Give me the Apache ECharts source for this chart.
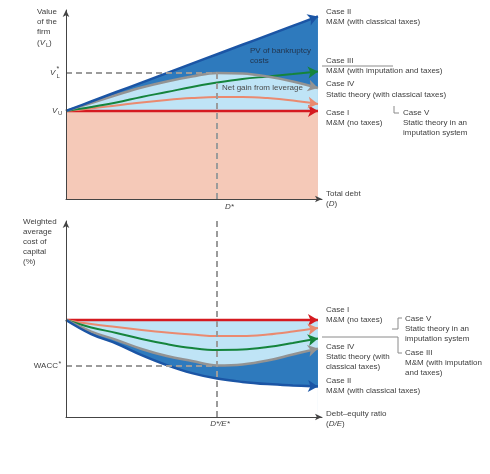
<!DOCTYPE html>
<html><head><meta charset="utf-8">
<script src="https://cdn.jsdelivr.net/npm/echarts@6/dist/echarts.min.js"></script>
<style>html,body{margin:0;padding:0;background:#fff}#c{width:490px;height:474px}</style>
</head><body><div id="c"></div>
<script>
// ---- data ----
const xPoints = [0, 10, 20, 30, 40, 50, 60, 70, 80, 90, 100];
// top panel: value of the firm vs total debt
const topCaseI   = [46.6, 46.6, 46.6, 46.6, 46.6, 46.6, 46.6, 46.6, 46.6, 46.6, 46.6];
const topCaseII  = [46.6, 51.6, 56.6, 61.6, 66.6, 71.6, 76.6, 81.6, 86.6, 91.6, 96.6];
const topCaseIII = [46.6, 48.7, 51.1, 54.0, 56.6, 59.3, 61.6, 63.5, 64.8, 66.1, 67.5];
const topCaseIV  = [46.6, 50.8, 55.0, 59.0, 62.2, 64.8, 66.7, 66.4, 64.8, 62.2, 58.7];
const topCaseV   = [46.6, 47.9, 49.5, 51.1, 52.4, 53.4, 54.0, 54.0, 53.4, 52.1, 50.3];
// bottom panel: WACC vs debt-equity ratio
const botCaseI   = [49.5, 49.5, 49.5, 49.5, 49.5, 49.5, 49.5, 49.5, 49.5, 49.5, 49.5];
const botCaseII  = [49.5, 42.3, 37.5, 31.6, 26.5, 22.4, 19.6, 17.9, 16.8, 16.1, 15.6];
const botCaseIII = [49.5, 45.7, 42.9, 39.8, 37.2, 35.2, 34.2, 34.4, 35.7, 37.8, 40.1];
const botCaseIV  = [49.5, 43.6, 39.3, 34.7, 31.1, 28.6, 26.3, 26.8, 28.8, 31.9, 34.9];
const botCaseV   = [49.5, 47.4, 45.9, 44.4, 43.1, 42.1, 41.3, 41.3, 42.1, 43.6, 45.4];
const dStar = 60;
const vLStar = 66.7;
const waccStar = 26.3;

// ---- styling ----
const FONT = '"Liberation Sans", Arial, sans-serif';
const TXT = '#404040';
const C = { red:'#d51a20', salmon:'#ea8a70', green:'#15843c', gray:'#939393', blue:'#1b55a5',
            dark:'#2e7abd', light:'#bfe4f6', peach:'#f5c9b8', dash:'#9b9b9b' };
const SM = 0.4;

const chart = echarts.init(document.getElementById('c'), null, {renderer:'canvas'});

function pairs(ys){ return xPoints.map((x,i)=>[x, ys[i]]); }
function fillSeries(id, g, ys, color){
  return {id, type:'line', xAxisIndex:g, yAxisIndex:g, data:pairs(ys), smooth:SM, showSymbol:false,
    lineStyle:{width:0, opacity:0}, areaStyle:{color, opacity:1}, z:1, silent:true, animation:false};
}
function lineSeries(id, g, ys, color, w, rot){
  const last = ys.length-1;
  return {id, type:'line', xAxisIndex:g, yAxisIndex:g, smooth:SM, z:3, silent:true, animation:false,
    showSymbol:true, showAllSymbol:true,
    data: xPoints.map((x,i)=>({value:[x, ys[i]], symbol: i===last?'arrow':'none',
      symbolSize: i===last?[9,10]:0, symbolRotate: i===last?(rot||0):0})),
    lineStyle:{color, width:w}, itemStyle:{color}};
}
function axisX(g){ return {gridIndex:g, type:'value', min:0, max:101.6, z:10,
  axisLine:{show:true, onZero:false, lineStyle:{color:'#444', width:1}, symbol:['none','arrow'], symbolSize:[5,7]},
  axisTick:{show:false}, axisLabel:{show:false}, splitLine:{show:false}}; }
function axisY(g){ return {gridIndex:g, type:'value', min:0, max:100, z:10,
  axisLine:{show:true, onZero:false, lineStyle:{color:'#444', width:1}, symbol:['none','arrow'], symbolSize:[5,7]},
  axisTick:{show:false}, axisLabel:{show:false}, splitLine:{show:false}}; }

function txt(x, y, text, o){
  o = o || {};
  return {type:'text', x, y, z:100, silent:true, style:{text, fill:o.fill||TXT, font:(o.italic?'italic ':'')+(o.size||8)+'px '+FONT,
    align:o.align||'left', verticalAlign:'middle',
    rich:{i:{fontStyle:'italic', fontSize:o.size||8, fontFamily:FONT, fill:o.fill||TXT}}}};
}
function pl(points){ return {type:'polyline', z:100, silent:true, shape:{points}, style:{stroke:'#8a8a8a', lineWidth:1, fill:null}}; }

const graphics = [
  // top panel y title
  txt(37,12,'Value'), txt(37,22,'of the'), txt(37,32,'firm'),
  txt(37,43,'({i|V}'), txt(46,45,'L',{size:6}), txt(49,43,')'),
  txt(50,73,'V',{italic:true}), txt(56.5,76,'L',{size:6}), txt(56.5,69,'*',{size:7}),
  txt(52,111,'V',{italic:true}), txt(58,113,'U',{size:6}),
  txt(225,207,'D*',{italic:true}),
  // top right labels
  txt(326,12,'Case II'), txt(326,22,'M&M (with classical taxes)'),
  txt(326,61,'Case III'), txt(326,71,'M&M (with imputation and taxes)'),
  txt(326,84,'Case IV'), txt(326,95,'Static theory (with classical taxes)'),
  txt(326,113,'Case I'), txt(326,123,'M&M (no taxes)'),
  txt(403,113,'Case V'), txt(403,123,'Static theory in an'), txt(403,133,'imputation system'),
  pl([[394,106],[394,113],[399,113]]),
  pl([[322,66],[393,66]]),
  txt(326,194,'Total debt'), txt(326,204,'({i|D})'),
  txt(250,51,'PV of bankruptcy',{fill:'#22354e'}), txt(250,61,'costs',{fill:'#22354e'}),
  txt(222,88,'Net gain from leverage',{fill:'#4a4a4a'}),
  // bottom panel y title
  txt(23,222,'Weighted'), txt(23,232,'average'), txt(23,242,'cost of'), txt(23,252,'capital'), txt(23,262,'(%)'),
  txt(58,366,'WACC',{align:'right'}), txt(58.5,364,'*',{size:7}),
  txt(220,424,'D*/E*',{italic:true, align:'center'}),
  // bottom right labels
  txt(326,310,'Case I'), txt(326,320,'M&M (no taxes)'),
  txt(326,347,'Case IV'), txt(326,357,'Static theory (with'), txt(326,367,'classical taxes)'),
  txt(326,381,'Case II'), txt(326,391,'M&M (with classical taxes)'),
  txt(326,414,'Debt–equity ratio'), txt(326,424,'({i|D/E})'),
  txt(405,319,'Case V'), txt(405,329,'Static theory in an'), txt(405,339,'imputation system'),
  txt(405,353,'Case III'), txt(405,363,'M&M (with imputation'), txt(405,373,'and taxes)'),
  pl([[392,329],[398,329],[398,318],[402,318]]),
  pl([[322,337],[398,337],[398,353],[402,353]])
];

const dashStyle = {color:C.dash, width:2, type:[6,4]};
function build(rots){
  rots = rots || {};
  return {
    backgroundColor:'#fff',
    animation:false,
    grid:[{left:66, right:168, top:10, height:189}, {left:66, right:168, top:221, height:196}],
    xAxis:[axisX(0), axisX(1)],
    yAxis:[axisY(0), axisY(1)],
    graphic: graphics,
    series:[
      fillSeries('tfB',0,topCaseII,C.dark),
      fillSeries('tfG',0,topCaseIV,C.light),
      fillSeries('tfR',0,topCaseI,C.peach),
      fillSeries('bfR',1,botCaseI,C.light),
      fillSeries('bfG',1,botCaseIV,C.dark),
      fillSeries('bfB',1,botCaseII,'#ffffff'),
      {id:'tdash', type:'line', xAxisIndex:0, yAxisIndex:0, data:[], z:2, silent:true,
        markLine:{silent:true, symbol:['none','none'], label:{show:false}, lineStyle:dashStyle, animation:false,
          data:[[{coord:[0,vLStar]},{coord:[dStar,vLStar]}],[{coord:[dStar,vLStar]},{coord:[dStar,0]}]]}},
      {id:'bdash', type:'line', xAxisIndex:1, yAxisIndex:1, data:[], z:2, silent:true,
        markLine:{silent:true, symbol:['none','none'], label:{show:false}, lineStyle:dashStyle, animation:false,
          data:[[{coord:[dStar,100]},{coord:[dStar,0]}],[{coord:[0,waccStar]},{coord:[dStar,waccStar]}]]}},
      lineSeries('tI',0,topCaseI,C.red,2.5,rots.tI),
      lineSeries('tV',0,topCaseV,C.salmon,2,rots.tV),
      lineSeries('tIII',0,topCaseIII,C.green,2,rots.tIII),
      lineSeries('tIV',0,topCaseIV,C.gray,2.5,rots.tIV),
      lineSeries('tII',0,topCaseII,C.blue,2.5,rots.tII),
      lineSeries('bI',1,botCaseI,C.red,2.5,rots.bI),
      lineSeries('bV',1,botCaseV,C.salmon,2,rots.bV),
      lineSeries('bIII',1,botCaseIII,C.green,2,rots.bIII),
      lineSeries('bIV',1,botCaseIV,C.gray,2.5,rots.bIV),
      lineSeries('bII',1,botCaseII,C.blue,2.5,rots.bII)
    ]
  };
}
chart.setOption(build());
function rotFor(g, ys){
  const n = ys.length;
  const p1 = chart.convertToPixel({gridIndex:g}, [xPoints[n-2], ys[n-2]]);
  const p2 = chart.convertToPixel({gridIndex:g}, [xPoints[n-1], ys[n-1]]);
  const th = Math.atan2(p2[1]-p1[1], p2[0]-p1[0]);
  return -90 - th*180/Math.PI;
}
const rots = {
  tI:rotFor(0,topCaseI), tV:rotFor(0,topCaseV), tIII:rotFor(0,topCaseIII), tIV:rotFor(0,topCaseIV), tII:rotFor(0,topCaseII),
  bI:rotFor(1,botCaseI), bV:rotFor(1,botCaseV), bIII:rotFor(1,botCaseIII), bIV:rotFor(1,botCaseIV), bII:rotFor(1,botCaseII)
};
chart.setOption(build(rots), true);
</script>
</body></html>
